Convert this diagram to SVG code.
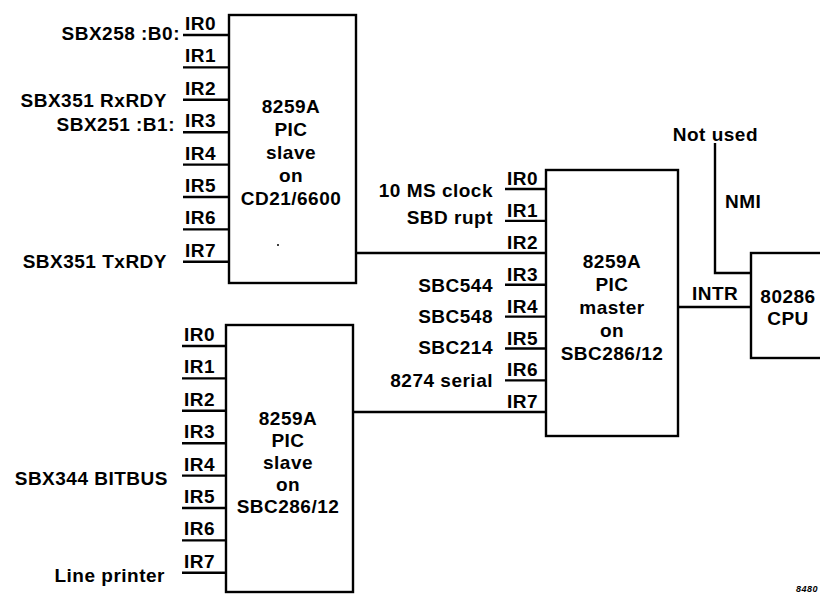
<svg xmlns="http://www.w3.org/2000/svg" width="820" height="595" viewBox="0 0 820 595">
<style>
text{font-family:"Liberation Sans",Arial,sans-serif;font-weight:bold;font-size:19px;letter-spacing:0.5px;fill:#000}
.e{text-anchor:end}
.m{text-anchor:middle}
.box{fill:#fff;stroke:#000;stroke-width:2.4}
.ln{fill:none;stroke:#000;stroke-width:2.4}
</style>
<rect width="820" height="595" fill="#fff"/>
<g id="connectors">
<polyline class="ln" points="355,253 546,253"/>
<polyline class="ln" points="353,412 546,412"/>
<polyline class="ln" points="678,307 751,307"/>
<polyline class="ln" points="715,143 715,273 751,273"/>
</g>
<g id="slave-top">
<rect class="box" x="229" y="15" width="127" height="268"/>
<path class="ln" d="M183 35H229M183 67.4H229M183 99.8H229M183 132.2H229M183 164.6H229M183 197H229M183 229.4H229M183 261.8H229"/>
<text x="185" y="30">IR0</text>
<text x="185" y="62.4">IR1</text>
<text x="185" y="94.8">IR2</text>
<text x="185" y="127.2">IR3</text>
<text x="185" y="159.6">IR4</text>
<text x="185" y="192">IR5</text>
<text x="185" y="224.4">IR6</text>
<text x="185" y="256.8">IR7</text>
<text class="m" x="291" y="113">8259A</text>
<text class="m" x="291" y="136">PIC</text>
<text class="m" x="291" y="159">slave</text>
<text class="m" x="291" y="182">on</text>
<text class="m" x="291" y="205">CD21/6600</text>
<circle cx="278" cy="245" r="1" fill="#000"/>
<text class="e" x="180" y="40">SBX258 :B0:</text>
<text class="e" x="167" y="107">SBX351 RxRDY</text>
<text class="e" x="175" y="131">SBX251 :B1:</text>
<text class="e" x="167" y="268">SBX351 TxRDY</text>
</g>
<g id="slave-bottom">
<rect class="box" x="226" y="325" width="127" height="267"/>
<path class="ln" d="M182 346H226M182 378.4H226M182 410.8H226M182 443.2H226M182 475.6H226M182 508H226M182 540.4H226M182 572.8H226"/>
<text x="184" y="341">IR0</text>
<text x="184" y="373.4">IR1</text>
<text x="184" y="405.8">IR2</text>
<text x="184" y="438.2">IR3</text>
<text x="184" y="470.6">IR4</text>
<text x="184" y="503">IR5</text>
<text x="184" y="535.4">IR6</text>
<text x="184" y="567.8">IR7</text>
<text class="m" x="288" y="425">8259A</text>
<text class="m" x="288" y="447">PIC</text>
<text class="m" x="288" y="469">slave</text>
<text class="m" x="288" y="491">on</text>
<text class="m" x="288" y="513">SBC286/12</text>
<text class="e" x="168" y="485">SBX344 BITBUS</text>
<text class="e" x="165" y="582">Line printer</text>
</g>
<g id="master">
<rect class="box" x="546" y="170" width="132" height="266"/>
<path class="ln" d="M505 189H546M505 220.9H546M505 284.7H546M505 316.6H546M505 348.5H546M505 380.4H546"/>
<text x="507" y="185">IR0</text>
<text x="507" y="216.9">IR1</text>
<text x="507" y="248.8">IR2</text>
<text x="507" y="280.7">IR3</text>
<text x="507" y="312.6">IR4</text>
<text x="507" y="344.5">IR5</text>
<text x="507" y="376.4">IR6</text>
<text x="507" y="408.3">IR7</text>
<text class="m" x="612" y="268">8259A</text>
<text class="m" x="612" y="291">PIC</text>
<text class="m" x="612" y="314">master</text>
<text class="m" x="612" y="337">on</text>
<text class="m" x="612" y="360">SBC286/12</text>
<text class="e" x="493" y="197">10 MS clock</text>
<text class="e" x="493" y="224">SBD rupt</text>
<text class="e" x="493" y="292">SBC544</text>
<text class="e" x="493" y="323">SBC548</text>
<text class="e" x="493" y="354">SBC214</text>
<text class="e" x="493" y="387">8274 serial</text>
</g>
<g id="cpu">
<rect class="box" x="751" y="253" width="90" height="105"/>
<text class="m" x="788" y="303">80286</text>
<text class="m" x="788" y="325">CPU</text>
</g>
<g id="labels">
<text x="692" y="300">INTR</text>
<text x="725" y="208">NMI</text>
<text class="e" x="758" y="141">Not used</text>
<text class="e" x="818" y="592" style="font-size:9px;font-style:italic;letter-spacing:0.5px">8480</text>
</g>
</svg>
